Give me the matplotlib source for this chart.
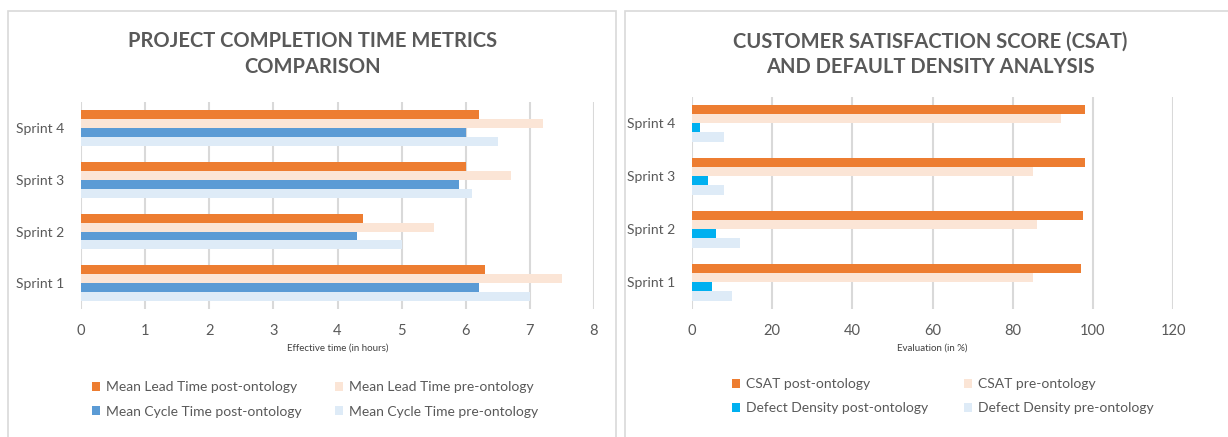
import numpy as np
import matplotlib
matplotlib.use("Agg")
import matplotlib.pyplot as plt
from matplotlib.patches import Rectangle

plt.rcParams['font.family'] = ['Lato', 'DejaVu Sans']

sprints = ["Sprint 1", "Sprint 2", "Sprint 3", "Sprint 4"]

# left chart: hours
lead_post = [6.3, 4.4, 6.0, 6.2]
lead_pre = [7.5, 5.5, 6.7, 7.2]
cycle_post = [6.2, 4.3, 5.9, 6.0]
cycle_pre = [7.0, 5.0, 6.1, 6.5]

# right chart: percent
csat_post = [97, 97.5, 98, 98]
csat_pre = [85, 86, 85, 92]
dd_post = [5, 6, 4, 2]
dd_pre = [10, 12, 8, 8]

W, H = 1228, 437
fig = plt.figure(figsize=(W / 100, H / 100), dpi=100)
TXT = "#595959"
GRID = "#D9D9D9"

# panel borders
fig.patches.append(Rectangle((8 / W, -0.1), (616 - 8) / W, 1.1 - 11 / H,
                             transform=fig.transFigure, fill=False,
                             edgecolor=GRID, lw=1.2))
fig.patches.append(Rectangle((625 / W, -0.1), 0.5, 1.1 - 11 / H,
                             transform=fig.transFigure, fill=False,
                             edgecolor=GRID, lw=1.2))


def draw(ax, series, labels, colors, xmax, xstep, xlabel):
    y = np.arange(len(sprints))
    h = 0.69 / 4
    offs = [1.5 * h, 0.5 * h, -0.5 * h, -1.5 * h]
    bars = []
    for vals, lab, col, off in zip(series, labels, colors, offs):
        b = ax.barh(y + off, vals, height=h, color=col, label=lab, zorder=3)
        bars.append(b)
    ax.set_xlim(0, xmax)
    ax.set_ylim(-0.5, len(sprints) - 0.5)
    ax.set_xticks(np.arange(0, xmax + xstep / 2, xstep))
    ax.set_yticks(y)
    ax.set_yticklabels(sprints)
    ax.grid(axis="x", color=GRID, lw=1.5, zorder=0)
    for s in ax.spines.values():
        s.set_visible(False)
    ax.tick_params(length=0, colors=TXT, labelsize=10.5)
    ax.tick_params(axis="x", pad=11)
    ax.tick_params(axis="y", pad=12, labelsize=10)
    ax.set_xlabel(xlabel, fontsize=7, color="#404040", labelpad=4)
    return bars


ax1 = fig.add_axes([81 / W, 1 - 309 / H, (594 - 81) / W, (309 - 102.4) / H])
b1 = draw(ax1, [lead_post, lead_pre, cycle_post, cycle_pre],
          ["Mean Lead Time post-ontology", "Mean Lead Time pre-ontology",
           "Mean Cycle Time post-ontology", "Mean Cycle Time pre-ontology"],
          ["#ED7D31", "#FBE5D6", "#5B9BD5", "#DEEBF7"], 8, 1,
          "Effective time (in hours)")

ax2 = fig.add_axes([692 / W, 1 - 308.8 / H, (1173 - 692) / W, (308.8 - 96.8) / H])
b2 = draw(ax2, [csat_post, csat_pre, dd_post, dd_pre],
          ["CSAT post-ontology", "CSAT pre-ontology",
           "Defect Density post-ontology", "Defect Density pre-ontology"],
          ["#ED7D31", "#FBE5D6", "#00B0F0", "#DEEBF7"], 120, 20,
          "Evaluation (in %)")

for ax, bars, x0, y0, cs in [(ax1, b1, 92, 381, 2.4), (ax2, b2, 732, 378, 2.6)]:
    order = [bars[0], bars[2], bars[1], bars[3]]
    leg = ax.legend(order, [b.get_label() for b in order], ncol=2,
                    loc="upper left", bbox_to_anchor=(x0 / W, 1 - y0 / H),
                    bbox_transform=fig.transFigure, frameon=False,
                    fontsize=10, handlelength=0.6, handleheight=0.6,
                    handletextpad=0.4, columnspacing=cs, labelspacing=0.9,
                    borderpad=0, borderaxespad=0)
    for t in leg.get_texts():
        t.set_color(TXT)

fig.text(313 / W, 1 - 54 / H, "PROJECT COMPLETION TIME METRICS\nCOMPARISON",
         ha="center", va="center", fontsize=14.5, fontweight="bold",
         color=TXT, linespacing=1.35)
fig.text(930 / W, 1 - 54 / H, "CUSTOMER SATISFACTION SCORE (CSAT)\nAND DEFAULT DENSITY ANALYSIS",
         ha="center", va="center", fontsize=14.5, fontweight="bold",
         color=TXT, linespacing=1.35)

fig.savefig("out.png", dpi=100, facecolor="white")
